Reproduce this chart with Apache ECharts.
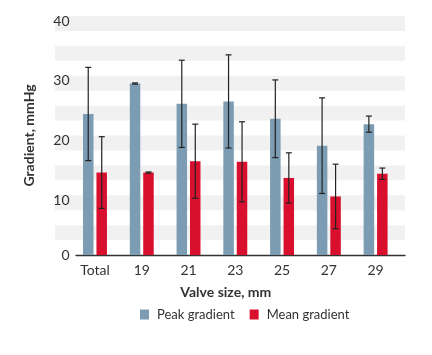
<!DOCTYPE html>
<html><head><meta charset="utf-8">
<script src="https://cdn.jsdelivr.net/npm/echarts@6/dist/echarts.min.js"></script>
<style>html,body{margin:0;padding:0;background:#fff}#c{width:432px;height:355px}</style>
</head><body><div id="c"></div>
<script>
var categories = ['Total', '19', '21', '23', '25', '27', '29'];
var peakMean = [23.6, 28.7, 25.3, 25.7, 22.8, 18.3, 21.9];
var peakSD   = [7.8, 0.1, 7.3, 7.8, 6.5, 8.0, 1.35];
var meanMean = [13.8, 13.8, 15.7, 15.6, 12.9, 9.8, 13.6];
var meanSD   = [6.0, 0.1, 6.2, 6.7, 4.2, 5.4, 0.95];
var yTicks = [0, 10, 20, 30, 40];

var FONT = 'Lato';
var TXT = '#333333';
var BLUE = '#7b9cb2';
var RED = '#d8102e';
var BAR_W = 10.5, OFF = 6.75;

function errSeries(name, means, sds, dx) {
  return {
    type: 'custom', name: name + ' err', xAxisIndex: 2, yAxisIndex: 2, z: 5,
    data: means.map(function (m, i) { return [i, m - sds[i], m + sds[i]]; }),
    renderItem: function (params, api) {
      var lo = api.coord([api.value(0), api.value(1)]);
      var hi = api.coord([api.value(0), api.value(2)]);
      var x = lo[0] + dx, h = 3;
      var st = { stroke: '#222', lineWidth: 1.2 };
      return { type: 'group', children: [
        { type: 'line', shape: { x1: x, y1: lo[1], x2: x, y2: hi[1] }, style: st },
        { type: 'line', shape: { x1: x - h, y1: lo[1], x2: x + h, y2: lo[1] }, style: st },
        { type: 'line', shape: { x1: x - h, y1: hi[1], x2: x + h, y2: hi[1] }, style: st }
      ]};
    }
  };
}

var chart = echarts.init(document.getElementById('c'));
chart.setOption({
  animation: false,
  textStyle: { fontFamily: FONT },
  grid: [
    { left: 55, right: 27, top: 16, bottom: 100 },
    { left: 76, right: 27, top: 16, bottom: 100 },
    { left: 71.6, right: 33, top: 16, bottom: 100 }
  ],
  xAxis: [
    { gridIndex: 0, type: 'value', show: false },
    { gridIndex: 1, type: 'value', axisLine: { show: true, lineStyle: { color: '#333', width: 1.3 } },
      axisTick: { show: false }, axisLabel: { show: false }, splitLine: { show: false } },
    { gridIndex: 2, type: 'category', data: categories,
      axisLine: { show: false }, axisTick: { show: false },
      axisLabel: { color: TXT, fontSize: 14, margin: 8, fontFamily: FONT },
      name: 'Valve size, mm', nameLocation: 'middle', nameGap: 30,
      nameTextStyle: { color: TXT, fontSize: 14, fontWeight: 'bold', fontFamily: FONT, padding: [0, 19, 0, 0] } }
  ],
  yAxis: [
    { gridIndex: 0, type: 'value', min: 0, max: 40, interval: 2.5,
      axisLine: { show: false }, axisTick: { show: false }, axisLabel: { show: false },
      splitLine: { show: false },
      splitArea: { show: true, areaStyle: { color: ['rgba(0,0,0,0)', '#f1f1f1'] } } },
    { gridIndex: 1, type: 'value', show: false, min: 0, max: 40 },
    { gridIndex: 2, type: 'value', min: 0, max: 40, interval: 10,
      axisLine: { show: false }, axisTick: { show: false }, splitLine: { show: false },
      axisLabel: { margin: 2, color: TXT, fontSize: 14, fontFamily: FONT,
        formatter: function (v) { return yTicks.indexOf(v) > 0 ? '{a|' + v + '}' : '{b|' + v + '}'; },
        rich: { a: { fontSize: 14, color: TXT, padding: [10, 0, 0, 0], fontFamily: FONT },
                b: { fontSize: 14, color: TXT, fontFamily: FONT } } },
      name: 'Gradient, mmHg', nameLocation: 'middle', nameGap: 35,
      nameTextStyle: { color: TXT, fontSize: 14, fontWeight: 'bold', fontFamily: FONT } }
  ],
  legend: {
    top: 303, left: 135, itemWidth: 9, itemHeight: 10, itemGap: 15,
    icon: 'rect', textStyle: { color: TXT, fontSize: 13, fontFamily: FONT, padding: [0, 0, 0, 3] },
    data: ['Peak gradient', 'Mean gradient']
  },
  series: [
    { type: 'bar', name: 'Peak gradient', xAxisIndex: 2, yAxisIndex: 2, data: peakMean,
      barWidth: BAR_W, barGap: '28%', itemStyle: { color: BLUE } },
    { type: 'bar', name: 'Mean gradient', xAxisIndex: 2, yAxisIndex: 2, data: meanMean,
      barWidth: BAR_W, barGap: '28%', itemStyle: { color: RED } },
    errSeries('Peak gradient', peakMean, peakSD, -OFF),
    errSeries('Mean gradient', meanMean, meanSD, OFF)
  ]
});
</script></body></html>
